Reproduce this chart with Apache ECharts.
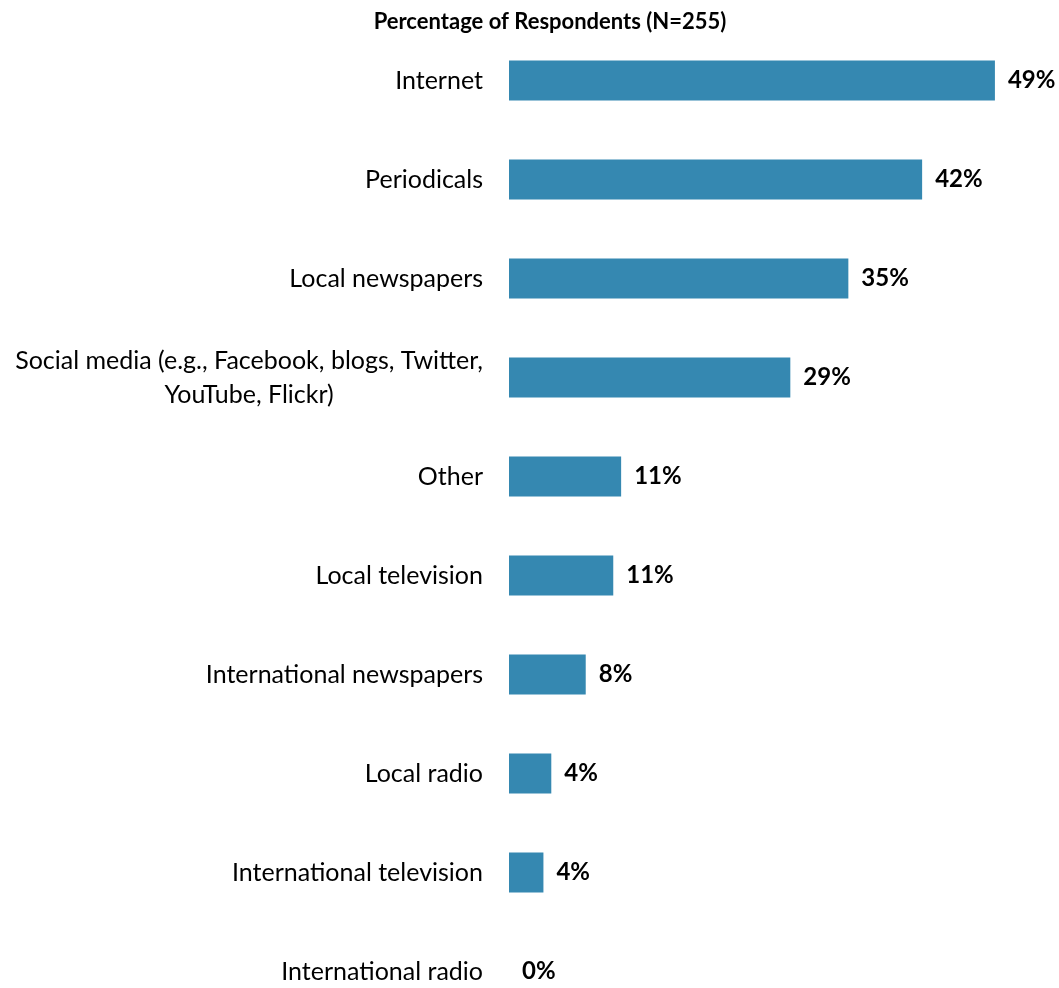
<!DOCTYPE html>
<html>
<head>
<meta charset="utf-8">
<script src="https://cdn.jsdelivr.net/npm/echarts@6/dist/echarts.min.js"></script>
<style>
html,body{margin:0;padding:0;background:#fff;overflow:hidden;width:1059px;height:988px;}
#chart{width:1059px;height:1021px;}
</style>
</head>
<body>
<div id="chart"></div>
<script>
const titleText = 'Percentage of Respondents (N=255)';
const categories = [
  'Internet',
  'Periodicals',
  'Local newspapers',
  'Social media (e.g., Facebook, blogs, Twitter, YouTube, Flickr)',
  'Other',
  'Local television',
  'International newspapers',
  'Local radio',
  'International television',
  'International radio'
];
const values = [49.4, 42.0, 34.5, 28.6, 11.4, 10.6, 7.8, 4.3, 3.5, 0];

const chart = echarts.init(document.getElementById('chart'));
const font = 'Lato, "Open Sans", sans-serif';
chart.setOption({
  animation: false,
  backgroundColor: '#ffffff',
  title: {
    text: titleText,
    left: 545,
    top: 6,
    textAlign: 'center',
    textStyle: {fontFamily: font, fontSize: 22, fontWeight: 'bold', color: '#000'}
  },
  grid: {left: 509, top: 31, bottom: 0, width: 541, containLabel: false},
  xAxis: {
    type: 'value', min: 0, max: 55, show: false
  },
  yAxis: {
    type: 'category',
    data: categories,
    inverse: true,
    axisLine: {show: false},
    axisTick: {show: false},
    axisLabel: {
      margin: 26,
      fontFamily: font,
      fontSize: 25,
      color: '#000',
      align: 'right',
      formatter: function (v) {
        return v.replace('Twitter, ', 'Twitter,\n').split('\n')
          .map(function (s) { return '{c|' + s + '}'; }).join('\n');
      },
      rich: {
        c: {align: 'center', fontFamily: font, fontSize: 25, color: '#000', lineHeight: 34}
      }
    }
  },
  series: [{
    type: 'bar',
    data: values,
    barWidth: 40,
    itemStyle: {color: '#3588b1'},
    label: {
      show: true,
      position: 'right',
      distance: 13,
      fontFamily: font,
      fontSize: 24,
      fontWeight: 'bold',
      color: '#000',
      formatter: function (p) { return Math.round(p.value) + '%'; }
    }
  }]
});
</script>
</body>
</html>
